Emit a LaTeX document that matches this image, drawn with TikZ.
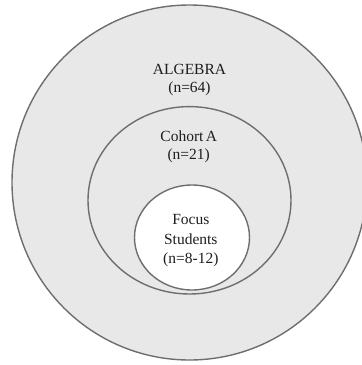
\documentclass[tikz,border=0pt]{standalone}
\usepackage{fontspec}
\setmainfont{Liberation Serif}
\definecolor{ringfill}{HTML}{E8E8E8}
\definecolor{ringline}{HTML}{6E6E6E}
\definecolor{txt}{HTML}{1E1E1E}
\begin{document}
\begin{tikzpicture}[x=1pt,y=-1pt,
  ring/.style={draw=ringline,line width=1.4pt},
  lbl/.style={anchor=base,inner sep=0pt,text=txt,font=\fontsize{15.5}{18}\selectfont}]
\useasboundingbox (0,0) rectangle (362,365);
\begin{scope}
\clip (0,0) rectangle (362,365);
\draw[ring,fill=ringfill] (189.5,182.5) ellipse [x radius=177.5,y radius=177.5];
\draw[ring,fill=ringfill] (189.5,200.3) ellipse [x radius=101.5,y radius=93.7];
\draw[ring,fill=white] (192,237.5) ellipse [x radius=57.5,y radius=52.5];
\end{scope}
\node[lbl] (alg) at (189.5,74) {ALGEBRA};
\node[lbl] (algn) at (189.5,92.5) {(n=64)};
\node[lbl] (coh) at (188.7,141) {Cohort\kern0.15em A};
\node[lbl] (cohn) at (188.7,159.5) {(n=21)};
\node[lbl] (foc) at (190.8,224) {Focus};
\node[lbl] (stu) at (190.8,244) {Students};
\node[lbl] (focn) at (190.8,263.5) {(n=8-12)};
\end{tikzpicture}
\end{document}
